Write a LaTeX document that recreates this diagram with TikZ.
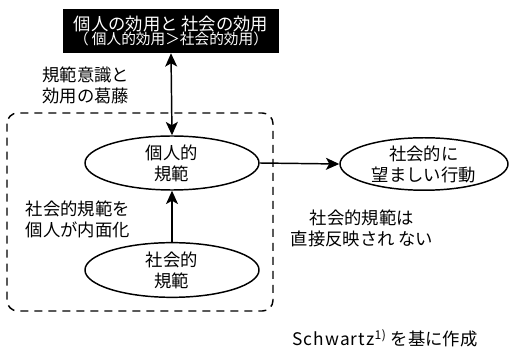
\documentclass[tikz,border=0pt]{standalone}
\usepackage{fontspec}
\setmainfont{Noto Sans CJK JP}
\usetikzlibrary{arrows.meta,shapes.geometric}
\tikzset{
  lbl/.style={align=center, font=\fontsize{13}{15.75}\selectfont, inner sep=0pt},
  ell/.style={draw, ellipse, line width=1.1pt, inner sep=0pt, align=center, font=\fontsize{13}{15.75}\selectfont},
  conn/.style={line width=1.1pt, -{Stealth[length=10pt,width=9pt,inset=2.5pt]}},
  conn2/.style={line width=1.1pt, {Stealth[length=10pt,width=9pt,inset=2.5pt]}-{Stealth[length=10pt,width=9pt,inset=2.5pt]}},
  grp/.style={line width=1.1pt, dash pattern=on 6pt off 4.5pt, rounded corners=8pt}
}
\begin{document}
\begin{tikzpicture}[x=0.75pt,y=-0.75pt]
\useasboundingbox (0,0) rectangle (512,349);
\draw[grp] (7,113) rectangle (273,311);
\node[fill=black, text=white, minimum width=162pt, minimum height=33pt, inner sep=0pt, align=center] (title) at (171,31)
  {{\fontsize{13}{14}\selectfont 個人の効用と 社会の効用}\\[-1pt]{\fontsize{11}{12}\selectfont （ 個人的効用＞社会的効用）}};
\node[ell, minimum width=130.5pt, minimum height=40.5pt] (ind) at (172,163) {個人的\\規範};
\node[ell, minimum width=130.5pt, minimum height=41pt] (soc) at (172,270) {社会的\\規範};
\node[ell, minimum width=126pt, minimum height=34pt] (beh) at (424,164) {社会的に\\望ましい行動};
\draw[conn2] (title.south) -- (ind.north);
\draw[conn] (soc.north) -- (ind.south);
\draw[conn] (ind.east) -- (beh.west);
\node[lbl] (l1) at (86,85) {規範意識と\\効用の葛藤};
\node[lbl] (l2) at (78,219) {社会的規範を\\個人が内面化};
\node[lbl] (l3) at (362,228) {社会的規範は\\直接反映され ない};
\node[lbl] (src) at (385,338) {\addfontfeature{LetterSpace=6}Schwartz\textsuperscript{1)}\addfontfeature{LetterSpace=0}\hspace{3pt}を基に作成};
\end{tikzpicture}
\end{document}
